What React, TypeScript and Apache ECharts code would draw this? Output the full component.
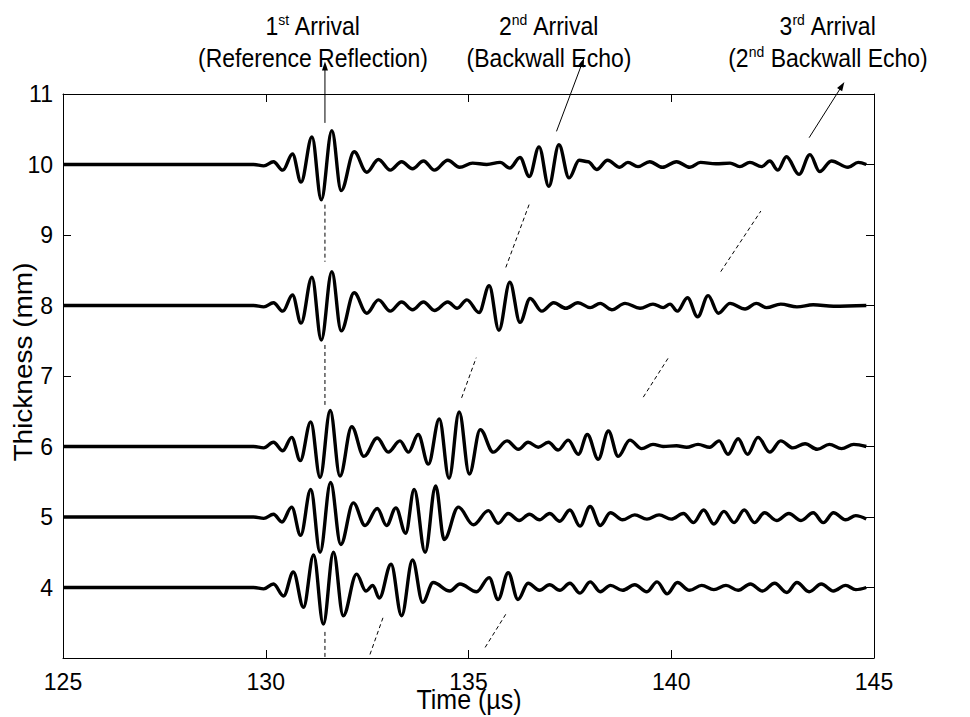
import React, { useEffect, useRef } from "react";
import * as echarts from "echarts";

// Axes
const X_MIN = 125;
const X_MAX = 145;
const X_STEP = 5;
const Y_MIN = 3;
const Y_MAX = 11;
const Y_STEP = 1;
const Y_HIDDEN_LABELS = [3];

// Trace offsets (thickness, mm)
const OFFSETS = [10, 8, 6, 5, 4];

// Waveforms: [time (µs), amplitude relative to offset]
const trace10: [number, number][] = [
  [125, 0], [129.7, 0], [129.95, -0.02],
  [130.19, 0.04], [130.42, -0.08], [130.66, 0.15], [130.87, -0.25], [131.14, 0.39],
  [131.37, -0.5], [131.63, 0.48], [131.86, -0.37], [132.18, 0.18], [132.49, -0.11],
  [132.78, 0.07], [133.07, -0.08], [133.35, 0.04], [133.62, -0.06], [133.89, 0.05],
  [134.16, -0.08], [134.49, 0.06], [134.78, -0.04], [135.1, 0.02], [135.45, 0.0],
  [135.78, 0.03], [136.02, -0.05], [136.27, 0.1], [136.5, -0.17], [136.74, 0.25],
  [136.98, -0.31], [137.23, 0.28], [137.48, -0.19], [137.73, 0.06], [137.95, 0.04],
  [138.16, -0.07], [138.43, 0.06], [138.73, -0.04], [138.93, 0.03], [139.18, -0.03],
  [139.47, 0.04], [139.78, -0.04], [140.13, 0.04], [140.46, -0.04], [140.72, 0.03],
  [141.1, 0.01], [141.45, 0.02], [141.69, -0.03], [141.94, 0.03], [142.23, -0.03],
  [142.43, 0.05], [142.63, -0.08], [142.84, 0.11], [143.15, -0.14], [143.42, 0.14],
  [143.66, -0.1], [143.95, 0.05], [144.36, -0.04], [144.61, 0.03], [144.81, 0.0],
];

const trace8: [number, number][] = [
  [125, 0], [129.7, 0], [129.95, -0.02],
  [130.19, 0.04], [130.42, -0.08], [130.66, 0.15], [130.87, -0.25], [131.14, 0.4],
  [131.37, -0.49], [131.63, 0.48], [131.86, -0.36], [132.18, 0.18], [132.49, -0.11],
  [132.78, 0.08], [133.07, -0.08], [133.35, 0.05], [133.62, -0.06], [133.89, 0.05],
  [134.16, -0.07], [134.49, 0.05], [134.72, -0.04], [134.96, 0.08], [135.26, -0.1],
  [135.51, 0.28], [135.75, -0.35], [136.02, 0.33], [136.27, -0.24], [136.52, 0.1],
  [136.81, -0.08], [137.1, 0.04], [137.4, -0.04], [137.7, 0.04], [138.0, -0.03],
  [138.25, 0.03], [138.53, -0.06], [138.86, 0.03], [139.23, -0.04], [139.55, 0.02],
  [139.8, -0.03], [139.97, 0.02], [140.15, -0.08], [140.4, 0.11], [140.65, -0.16],
  [140.91, 0.14], [141.16, -0.11], [141.45, 0.03], [141.82, -0.05], [142.1, 0.03],
  [142.35, -0.03], [142.7, 0.02], [143.1, -0.02], [143.5, 0.01], [144.0, -0.01],
  [144.81, 0.0],
];

const trace6: [number, number][] = [
  [125, 0], [129.7, 0], [129.95, -0.02],
  [130.19, 0.06], [130.42, -0.06], [130.64, 0.13], [130.85, -0.2], [131.11, 0.35],
  [131.34, -0.44], [131.59, 0.51], [131.83, -0.42], [132.12, 0.28], [132.42, -0.14],
  [132.75, 0.12], [133.02, -0.08], [133.31, 0.08], [133.52, -0.08], [133.76, 0.17],
  [134.01, -0.25], [134.28, 0.39], [134.52, -0.45], [134.77, 0.49], [135.02, -0.39],
  [135.29, 0.24], [135.61, -0.08], [135.95, 0.08], [136.23, -0.04], [136.47, 0.06],
  [136.72, -0.01], [136.97, 0.06], [137.21, -0.05], [137.46, 0.09], [137.71, -0.11],
  [137.93, 0.17], [138.2, -0.18], [138.45, 0.22], [138.69, -0.14], [138.98, 0.09],
  [139.27, -0.03], [139.55, 0.03], [139.8, 0.0], [140.13, 0.01], [140.38, -0.01],
  [140.66, 0.03], [140.95, -0.01], [141.18, 0.08], [141.4, -0.11], [141.65, 0.11],
  [141.88, -0.11], [142.14, 0.13], [142.43, -0.08], [142.7, 0.08], [143.0, -0.02],
  [143.3, 0.04], [143.6, -0.04], [143.9, 0.03], [144.2, -0.03], [144.5, 0.03],
  [144.81, 0.0],
];

const trace5: [number, number][] = [
  [125, 0], [129.7, 0], [129.95, -0.02],
  [130.19, 0.04], [130.4, -0.07], [130.64, 0.14], [130.86, -0.26], [131.11, 0.39],
  [131.34, -0.5], [131.6, 0.49], [131.85, -0.39], [132.16, 0.2], [132.45, -0.12],
  [132.75, 0.12], [132.98, -0.12], [133.21, 0.13], [133.45, -0.23], [133.66, 0.39],
  [133.93, -0.5], [134.19, 0.44], [134.4, -0.32], [134.75, 0.14], [135.12, -0.11],
  [135.49, 0.09], [135.73, -0.09], [135.98, 0.05], [136.25, -0.05], [136.5, 0.04],
  [136.75, -0.04], [137.0, 0.05], [137.25, -0.06], [137.5, 0.1], [137.75, -0.13],
  [138.0, 0.15], [138.25, -0.12], [138.5, 0.06], [138.8, -0.04], [139.1, 0.03],
  [139.4, -0.03], [139.7, 0.03], [140.0, -0.03], [140.3, 0.05], [140.55, -0.08],
  [140.8, 0.1], [141.05, -0.1], [141.3, 0.08], [141.55, -0.08], [141.8, 0.1],
  [142.05, -0.08], [142.3, 0.06], [142.6, -0.05], [142.9, 0.05], [143.2, -0.05],
  [143.5, 0.06], [143.75, -0.08], [144.0, 0.06], [144.3, -0.04], [144.55, 0.02],
  [144.81, -0.03],
];

const trace4: [number, number][] = [
  [125, 0], [129.7, 0], [129.95, -0.02],
  [130.19, 0.05], [130.44, -0.12], [130.68, 0.22], [130.93, -0.28], [131.18, 0.46],
  [131.42, -0.52], [131.67, 0.5], [131.91, -0.4], [132.24, 0.19], [132.47, -0.05],
  [132.64, 0.03], [132.8, -0.15], [133.09, 0.33], [133.35, -0.4], [133.62, 0.39],
  [133.87, -0.21], [134.13, 0.07], [134.54, -0.05], [134.79, 0.05], [135.2, -0.06],
  [135.51, 0.14], [135.73, -0.17], [135.98, 0.21], [136.22, -0.17], [136.47, 0.06],
  [136.75, -0.04], [137.0, 0.04], [137.25, -0.04], [137.5, 0.06], [137.75, -0.08],
  [138.0, 0.08], [138.25, -0.06], [138.5, 0.03], [138.8, -0.04], [139.1, 0.04],
  [139.4, -0.06], [139.65, 0.08], [139.9, -0.09], [140.15, 0.07], [140.45, -0.04],
  [140.75, 0.03], [141.05, -0.03], [141.35, 0.03], [141.65, -0.04], [141.95, 0.05],
  [142.25, -0.05], [142.55, 0.06], [142.85, -0.07], [143.1, 0.07], [143.4, -0.06],
  [143.7, 0.05], [144.0, -0.05], [144.3, 0.03], [144.55, -0.03], [144.81, 0.0],
];

const TRACES = [trace10, trace8, trace6, trace5, trace4];

// Dashed arrival guide segments: [[t0, y0], [t1, y1]]
const dashSegments: [number, number][][] = [
  [[131.46, 9.43], [131.46, 8.62]],
  [[131.46, 7.44], [131.46, 6.59]],
  [[131.46, 3.37], [131.46, 3.0]],
  [[135.92, 8.54], [136.5, 9.44]],
  [[134.83, 6.69], [135.19, 7.26]],
  [[132.57, 3.05], [132.89, 3.57]],
  [[141.22, 8.48], [142.21, 9.34]],
  [[139.31, 6.7], [139.92, 7.25]],
  [[135.41, 3.15], [135.94, 3.64]],
];

// Annotation arrows: [from, to] in data coordinates
const arrows: [number, number][][] = [
  [[131.46, 10.59], [131.46, 11.46]],
  [[137.17, 10.47], [137.85, 11.51]],
  [[143.4, 10.38], [144.27, 11.17]],
];

const FONT = "'Liberation Sans', Arial, Helvetica, sans-serif";
const FS = 23;
const NAME_FS = 25;

export default function App() {
  const ref = useRef<HTMLDivElement>(null);
  useEffect(() => {
    if (!ref.current) return;
    const chart = echarts.init(ref.current, undefined, { renderer: "svg" });

    const traceSeries = TRACES.map((tr, i) => ({
      type: "line",
      data: tr.map(([t, a]) => [t, OFFSETS[i] + a]),
      showSymbol: false,
      symbol: "none",
      smooth: 0.36,
      smoothMonotone: "x",
      lineStyle: { color: "#000", width: 3.4 },
      z: 3,
      silent: true,
    }));

    const dashSeries = dashSegments.map((seg) => ({
      type: "line",
      data: seg,
      showSymbol: false,
      symbol: "none",
      lineStyle: { color: "#000", width: 1, type: [4, 3] },
      z: 2,
      silent: true,
    }));

    const axisLine = { show: true, lineStyle: { color: "#000", width: 1 } };
    const tick = { show: true, inside: true, length: 8, lineStyle: { color: "#000", width: 1 } };

    chart.setOption({
      animation: false,
      backgroundColor: "#fff",
      grid: { left: 63, right: 96, top: 94, bottom: 59, containLabel: false },
      xAxis: [
        {
          type: "value", min: X_MIN, max: X_MAX, interval: X_STEP, position: "bottom",
          axisLine, axisTick: tick, splitLine: { show: false },
          axisLabel: { color: "#000", fontSize: FS, fontFamily: FONT, margin: 12 },
        },
        {
          type: "value", min: X_MIN, max: X_MAX, interval: X_STEP, position: "top",
          axisLine, axisTick: tick, splitLine: { show: false }, axisLabel: { show: false },
        },
      ],
      yAxis: [
        {
          type: "value", min: Y_MIN, max: Y_MAX, interval: Y_STEP, position: "left",
          axisLine, axisTick: tick, splitLine: { show: false },
          axisLabel: {
            color: "#000", fontSize: FS, fontFamily: FONT, margin: 10,
            formatter: (v: number) => (Y_HIDDEN_LABELS.includes(v) ? "" : String(v)),
          },
        },
        {
          type: "value", min: Y_MIN, max: Y_MAX, interval: Y_STEP, position: "right",
          axisLine, axisTick: tick, splitLine: { show: false }, axisLabel: { show: false },
        },
      ],
      series: [...dashSeries, ...traceSeries],
    });

    // Arrows computed from data coordinates through the grid's scales
    const arrowEls: any[] = [];
    arrows.forEach(([a, b]) => {
      const p0 = chart.convertToPixel({ gridIndex: 0 }, a) as number[];
      const p1 = chart.convertToPixel({ gridIndex: 0 }, b) as number[];
      const dx = p1[0] - p0[0];
      const dy = p1[1] - p0[1];
      const len = Math.sqrt(dx * dx + dy * dy);
      const ux = dx / len;
      const uy = dy / len;
      const nx = -uy;
      const ny = ux;
      const L = 9;
      const W = 3;
      arrowEls.push({
        type: "line",
        shape: { x1: p0[0], y1: p0[1], x2: p1[0] - ux * L * 0.5, y2: p1[1] - uy * L * 0.5 },
        style: { stroke: "#000", lineWidth: 1 },
        z: 10,
      });
      arrowEls.push({
        type: "polygon",
        shape: {
          points: [
            [p1[0], p1[1]],
            [p1[0] - ux * L + nx * W, p1[1] - uy * L + ny * W],
            [p1[0] - ux * L - nx * W, p1[1] - uy * L - ny * W],
          ],
        },
        style: { fill: "#000" },
        z: 10,
      });
    });

    const rich = {
      sup: { fontSize: 14, fontFamily: FONT, fill: "#000", verticalAlign: "top", lineHeight: 26 },
      n: { fontSize: FS, fontFamily: FONT, fill: "#000", lineHeight: 26 },
    };
    const label = (text: string, x: number, y: number) => ({
      type: "text",
      x,
      y,
      scaleY: 1.1,
      style: {
        text,
        rich,
        fontSize: FS,
        fontFamily: FONT,
        fill: "#000",
        align: "center",
        verticalAlign: "middle",
      },
      z: 10,
    });

    chart.setOption({
      graphic: [
        ...arrowEls,
        label("{n|1}{sup|st}{n| Arrival}", 313, 26),
        label("{n|(Reference Reflection)}", 313, 58),
        label("{n|2}{sup|nd}{n| Arrival}", 549, 26),
        label("{n|(Backwall Echo)}", 549, 58),
        label("{n|3}{sup|rd}{n| Arrival}", 828, 26),
        label("{n|(2}{sup|nd}{n| Backwall Echo)}", 828, 58),
        {
          type: "text",
          x: 469,
          y: 700,
          scaleY: 1.12,
          style: { text: "Time (\u00b5s)", fontSize: NAME_FS, fontFamily: FONT, fill: "#000", align: "center", verticalAlign: "middle" },
        },
        {
          type: "text",
          x: 24,
          y: 362,
          rotation: Math.PI / 2,
          scaleX: 1.12,
          style: { text: "Thickness (mm)", fontSize: NAME_FS, fontFamily: FONT, fill: "#000", align: "center", verticalAlign: "middle" },
        },
      ],
    });

    return () => chart.dispose();
  }, []);

  return (
    <div
      ref={ref}
      style={{ position: "fixed", left: 0, top: 0, width: 970, height: 717, background: "#fff" }}
    />
  );
}
